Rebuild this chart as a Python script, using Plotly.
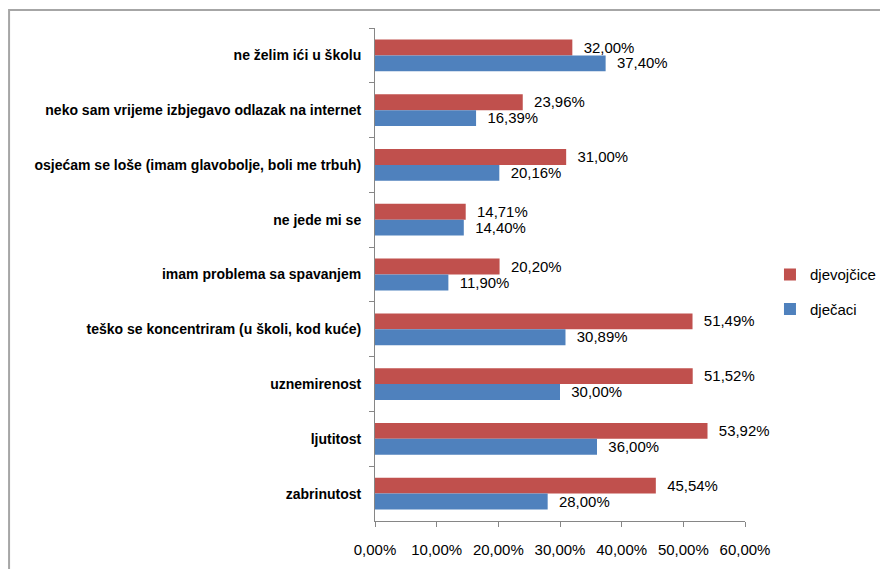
import plotly.graph_objects as go

categories = [
    "ne želim ići u školu",
    "neko sam vrijeme izbjegavo odlazak na internet",
    "osjećam se loše (imam glavobolje, boli me trbuh)",
    "ne jede mi se",
    "imam problema sa spavanjem",
    "teško se koncentriram (u školi, kod kuće)",
    "uznemirenost",
    "ljutitost",
    "zabrinutost",
]
djevojcice = [0.3200, 0.2396, 0.3100, 0.1471, 0.2020, 0.5149, 0.5152, 0.5392, 0.4554]
djecaci = [0.3740, 0.1639, 0.2016, 0.1440, 0.1190, 0.3089, 0.3000, 0.3600, 0.2800]
x_ticks = [0, 0.1, 0.2, 0.3, 0.4, 0.5, 0.6]

FONT = "Liberation Sans"
AX = "#868686"

fig = go.Figure()
fig.add_trace(go.Bar(
    y=categories, x=djevojcice, name="djevojčice", orientation="h",
    legendgroup="a",
    marker=dict(color="#C0504D", line=dict(width=0)),
    texttemplate="  %{x:.2%}", textposition="outside", cliponaxis=False,
    textfont=dict(family=FONT, size=16, color="#000000"),
))
fig.add_trace(go.Bar(
    y=categories, x=djecaci, name="dječaci", orientation="h",
    legendgroup="b",
    marker=dict(color="#4F81BD", line=dict(width=0)),
    texttemplate="  %{x:.2%}", textposition="outside", cliponaxis=False,
    textfont=dict(family=FONT, size=16, color="#000000"),
))

fig.update_layout(
    width=880, height=569,
    margin=dict(l=375, r=135, t=28, b=48, autoexpand=False),
    barmode="group", bargap=0.42, bargroupgap=0,
    separators=", ",
    paper_bgcolor="white", plot_bgcolor="white",
    font=dict(family=FONT, size=14, color="#000000"),
    showlegend=True,
    legend=dict(x=1.0675, y=0.465, xanchor="left", yanchor="middle",
                font=dict(family=FONT, size=15), traceorder="grouped",
                tracegroupgap=12, bgcolor="rgba(0,0,0,0)"),
    xaxis=dict(range=[0, 0.6], tickvals=x_ticks, tickformat=".2%",
               automargin=False,
               showgrid=False, zeroline=False, showline=True, linecolor=AX,
               linewidth=1, ticks="outside", ticklen=5, tickcolor=AX,
               tickfont=dict(family=FONT, size=15), ticklabelstandoff=10),
    yaxis=dict(autorange="reversed", showgrid=False, showline=True,
               automargin=False,
               linecolor=AX, linewidth=1, ticks="outside", ticklen=5,
               tickcolor=AX, tickson="boundaries",
               tickfont=dict(family=FONT, size=14, color="#000000", weight="bold"),
               ticklabelstandoff=10),
    shapes=[dict(type="rect", xref="paper", yref="paper",
                 x0=-0.989, x1=1.6, y0=-0.3, y1=1.0365,
                 line=dict(color="#A6A6A6", width=2), layer="below")],
)

fig.write_html("out.html", config={"displayModeBar": False},
               post_script="document.body.style.margin='0';")
